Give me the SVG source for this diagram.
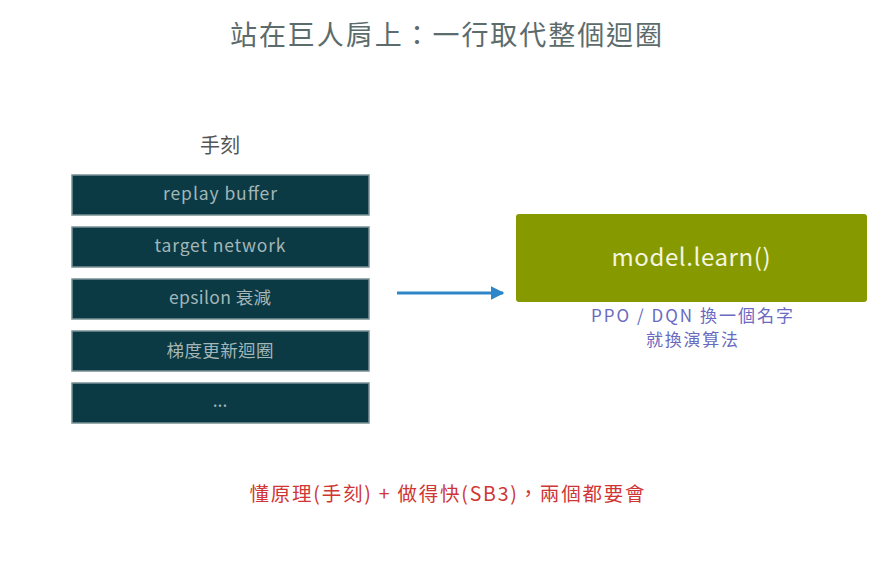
<svg xmlns="http://www.w3.org/2000/svg" width="894" height="564" viewBox="0 0 894 564">
<style>
text{font-family:"Noto Sans CJK TC","Noto Sans",sans-serif;text-anchor:middle}
.box{fill:#0b3a44;stroke:#7a9196;stroke-width:1.5}
.bt{fill:#a3b6b8;font-size:17.5px}
.sub{fill:#6a6ac0;font-size:17px}
</style>
<defs>
<marker id="ah" viewBox="0 0 10 10" refX="9" refY="5" markerWidth="4.5" markerHeight="4.5" orient="auto" markerUnits="strokeWidth">
<path d="M0,0L10,5L0,10z" fill="#2e86c8"/>
</marker>
</defs>
<rect width="894" height="564" fill="#ffffff"/>
<text x="446" y="45" font-size="27" fill="#5c6b6b" textLength="432" lengthAdjust="spacing">站在巨人肩上：一行取代整個迴圈</text>
<text x="220" y="153" font-size="20" fill="#555">手刻</text>
<g id="n1"><rect class="box" x="72" y="175" width="297" height="40"/><text class="bt" x="220" y="200" textLength="114" lengthAdjust="spacing">replay buffer</text></g>
<g id="n2"><rect class="box" x="72" y="227" width="297" height="40"/><text class="bt" x="220" y="252" textLength="131" lengthAdjust="spacing">target network</text></g>
<g id="n3"><rect class="box" x="72" y="279" width="297" height="40"/><text class="bt" x="220" y="304" textLength="102" lengthAdjust="spacing">epsilon 衰減</text></g>
<g id="n4"><rect class="box" x="72" y="331" width="297" height="40"/><text class="bt" x="220" y="357" textLength="107" lengthAdjust="spacing">梯度更新迴圈</text></g>
<g id="n5"><rect class="box" x="72" y="383" width="297" height="40"/><text class="bt" x="220" y="407">...</text></g>
<g id="n6"><rect x="516" y="214" width="351" height="88" rx="3" fill="#869a00"/><text x="691" y="266" font-size="24" fill="#f5f5e0" textLength="159" lengthAdjust="spacing">model.learn()</text></g>
<g id="connectors"><line x1="397" y1="293" x2="503" y2="293" stroke="#2e86c8" stroke-width="3" marker-end="url(#ah)"/></g>
<text class="sub" x="692" y="322" textLength="202" lengthAdjust="spacing">PPO / DQN 換一個名字</text>
<text class="sub" x="692" y="346" textLength="92" lengthAdjust="spacing">就換演算法</text>
<text x="447" y="501" font-size="19.5" fill="#d03535" textLength="395" lengthAdjust="spacing">懂原理(手刻) + 做得快(SB3)，兩個都要會</text>
</svg>
